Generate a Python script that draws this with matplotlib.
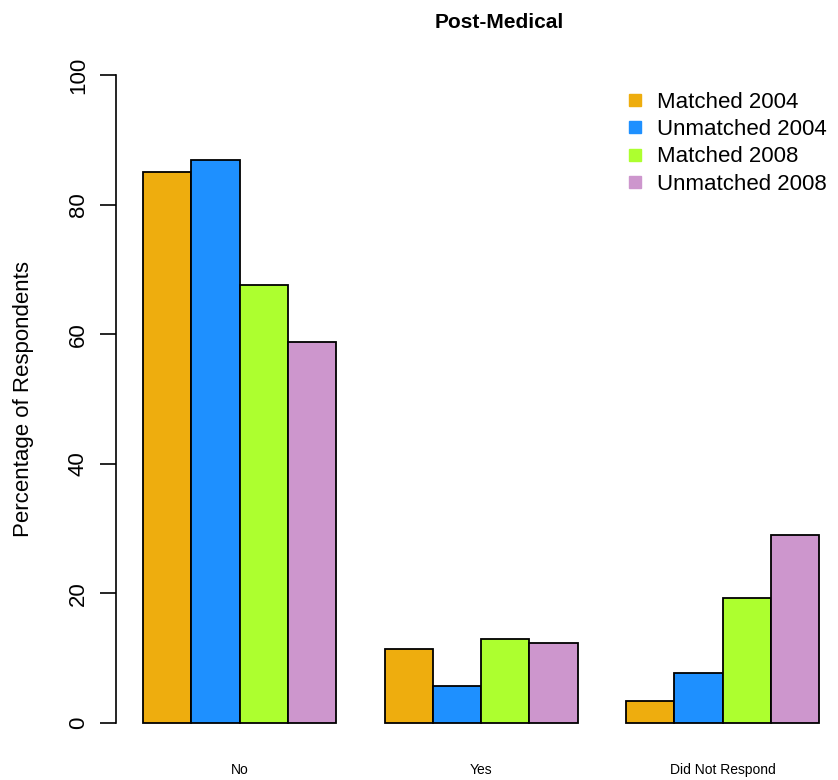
import matplotlib
matplotlib.use("Agg")
import matplotlib.pyplot as plt
from matplotlib.lines import Line2D

# ------------------ datos ------------------
categorias = ["No", "Yes", "Did Not Respond"]
series = ["Matched 2004", "Unmatched 2004", "Matched 2008", "Unmatched 2008"]
matched_2004 = [85.0, 11.4, 3.4]
unmatched_2004 = [86.9, 5.7, 7.7]
matched_2008 = [67.6, 13.0, 19.3]
unmatched_2008 = [58.8, 12.3, 29.0]
valores = [matched_2004, unmatched_2004, matched_2008, unmatched_2008]
colores = ["#EEAD0E", "#1E90FF", "#ADFF2F", "#CD96CD"]

plt.rcParams['font.family'] = ['Liberation Sans', 'DejaVu Sans']

W, H = 838, 780
fig = plt.figure(figsize=(W / 100, H / 100), dpi=100)
ax = fig.add_axes([116 / W, 31 / H, (W - 116) / W, 700 / H])

# barras al estilo barplot(beside=TRUE) de R
n_series = len(series)
for i, (vals, col) in enumerate(zip(valores, colores)):
    xs = [1 + g * (n_series + 1) + i for g in range(len(categorias))]
    ax.bar(xs, vals, width=1, align='edge', color=col,
           edgecolor='black', linewidth=1.3, label=series[i])

centros = [1 + g * (n_series + 1) + n_series / 2 for g in range(len(categorias))]
ax.set_xticks(centros)
ax.set_xticklabels(categorias, fontsize=10)
ax.tick_params(axis='x', length=0, pad=10)

ax.set_xlim(0.44, 15.39)
ax.set_ylim(-4, 104)
ax.set_yticks([0, 20, 40, 60, 80, 100])
ax.set_yticklabels(["0", "20", "40", "60", "80", "100"], rotation=90,
                   va='center', fontsize=16)
ax.tick_params(axis='y', length=11.5, width=1.2, pad=8)

for s in ['top', 'right', 'bottom']:
    ax.spines[s].set_visible(False)
ax.spines['left'].set_bounds(0, 100)
ax.spines['left'].set_linewidth(1.2)

ax.set_ylabel("Percentage of Respondents", fontsize=16)
ax.yaxis.set_label_coords(-0.113, 0.5)

fig.text(499 / W, 1 - 22 / H, "Post-Medical", fontsize=15, fontweight='bold',
         ha='center', va='center')

handles = [Line2D([0], [0], marker='s', linestyle='none', markersize=9,
                  markerfacecolor=c, markeredgecolor=c) for c in colores]
fig.legend(handles, series, loc='upper left',
           bbox_to_anchor=(624 / W, 1 - 92 / H), frameon=False,
           fontsize=16, handlelength=1.0, handletextpad=0.5,
           borderpad=0, borderaxespad=0, labelspacing=0.28)

fig.savefig("out.png", dpi=100)
